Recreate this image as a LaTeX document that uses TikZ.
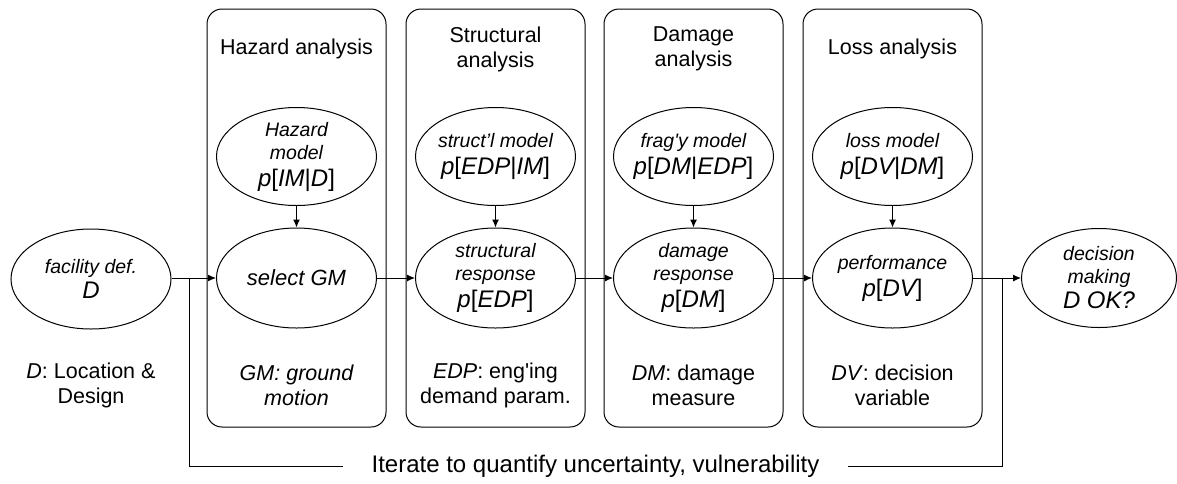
\documentclass[tikz,border=0pt]{standalone}
\usepackage{fontspec}
\setmainfont{Liberation Sans}[Ligatures=TeXOff]
\usetikzlibrary{shapes.geometric,arrows.meta}
\newcommand\fsml{\fontsize{19.5}{23}\selectfont}
\newcommand\fbig{\fontsize{24}{27}\selectfont}
\newcommand\fttl{\fontsize{21.5}{25}\selectfont}
\newcommand\fsel{\fontsize{22}{25}\selectfont}
\newcommand\fitr{\fontsize{24}{27}\selectfont}
\tikzset{
  box/.style={draw, rounded corners=15pt, minimum width=179pt, minimum height=418pt, inner sep=0pt},
  ell/.style={draw, ellipse, minimum width=160pt, minimum height=98pt, inner sep=0pt},
  etxt/.style={align=center, inner sep=0pt, font=\fsml\itshape},
  ttl/.style={align=center, inner sep=0pt, font=\fttl},
  arr/.style={-{Latex[length=8pt,width=7pt]}},
}
\begin{document}
\begin{tikzpicture}[x=1pt,y=-1pt,line width=1pt]
\useasboundingbox (0,0) rectangle (1177,483);
% boxes
\node[box] (bh) at (296.5,218) {};
\node[box] (bs) at (495.5,218) {};
\node[box] (bd) at (693.5,218) {};
\node[box] (bl) at (892.5,218) {};
% titles
\node[ttl] (th) at (296.5,49) {Hazard analysis};
\node[ttl] (ts) at (495.5,49) {Structural\\analysis};
\node[ttl] (td) at (693.5,49) {Damage\\analysis};
\node[ttl] (tl) at (892.5,49) {Loss analysis};
% upper ellipses
\node[ell] (haz) at (296.5,156.5) {};
\node[ell] (stm) at (495.5,156.5) {};
\node[ell] (frm) at (693.5,156.5) {};
\node[ell] (lsm) at (892.5,156.5) {};
\node[etxt] (hazT) at (haz) {Hazard\\model\\[4pt]{\fbig p\upshape[\itshape IM\upshape|\itshape D\upshape]}};
\node[etxt] (stmT) at (stm) {struct’l model\\[4pt]{\fbig p\upshape[\itshape EDP\upshape|\itshape IM\upshape]}};
\node[etxt] (frmT) at (frm) {frag'y model\\[4pt]{\fbig p\upshape[\itshape DM\upshape|\itshape EDP\upshape]}};
\node[etxt] (lsmT) at (lsm) {loss model\\[4pt]{\fbig p\upshape[\itshape DV\upshape|\itshape DM\upshape]}};
% lower ellipses
\node[ell, minimum height=100pt] (fac) at (91,279) {};
\node[ell, minimum height=100pt] (sel) at (296.5,278) {};
\node[ell, minimum height=100pt] (str) at (495.5,278) {};
\node[ell, minimum height=100pt] (dmg) at (693.5,278) {};
\node[ell, minimum height=100pt] (prf) at (892.5,278) {};
\node[ell, minimum height=99pt, minimum width=155pt] (dec) at (1099,278) {};
\node[etxt] (facT) at (fac) {facility def.\\[2pt]{\fbig D}};
\node[etxt, font=\fsel\itshape] (selT) at (sel) {select GM};
\node[etxt] (strT) at (str) {structural\\response\\[4pt]{\fbig p\upshape[\itshape EDP\upshape]}};
\node[etxt] (dmgT) at (dmg) {damage\\response\\[4pt]{\fbig p\upshape[\itshape DM\upshape]}};
\node[etxt] (prfT) at (prf) {performance\\[4pt]{\fbig p\upshape[\itshape DV\upshape]}};
\node[etxt] (decT) at (dec) {decision\\making\\[2pt]{\fbig D OK?}};
% bottom labels
\node[ttl] (lf) at (91,385.5) {\textit{D}: Location \&\\Design};
\node[ttl, font=\fttl\itshape] (lh) at (296.5,385.5) {GM: ground\\motion};
\node[ttl] (ls) at (495.5,385.5) {\textit{EDP}: eng'ing\\demand param.};
\node[ttl] (ld) at (693.5,385.5) {\textit{DM}: damage\\measure};
\node[ttl] (ll) at (892.5,385.5) {\textit{DV}: decision\\variable};
% connectors
\draw[arr] (haz) -- (sel);
\draw[arr] (stm) -- (str);
\draw[arr] (frm) -- (dmg);
\draw[arr] (lsm) -- (prf);
\draw[arr] (fac.east |- sel.west) -- (sel.west);
\draw[arr] (sel.east) -- (str.west);
\draw[arr] (str.east) -- (dmg.west);
\draw[arr] (dmg.east) -- (prf.west);
\draw[arr] (prf.east) -- (dec.west);
% iterate loop
\coordinate (itL) at (189,278);
\coordinate (itR) at (1002,278);
\node[inner ysep=0pt, inner xsep=28pt, font=\fitr] (it) at (595.5,466) {Iterate to quantify uncertainty, vulnerability};
\draw (itL) |- (it.west);
\draw (itR) |- (it.east);
\end{tikzpicture}
\end{document}
